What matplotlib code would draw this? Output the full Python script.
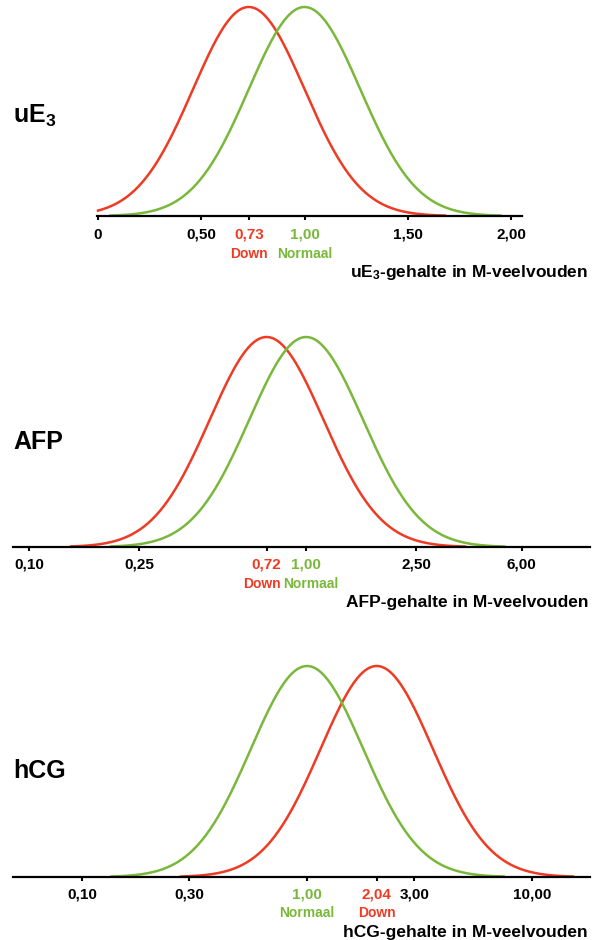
import numpy as np
import matplotlib.pyplot as plt
from matplotlib.ticker import NullLocator

plt.rcParams['font.family'] = ['Liberation Sans', 'DejaVu Sans']
plt.rcParams['font.weight'] = 'bold'
plt.rcParams['mathtext.fontset'] = 'custom'
plt.rcParams['mathtext.rm'] = 'Liberation Sans:bold'
plt.rcParams['mathtext.default'] = 'rm'

RED = '#EE3B24'
GREEN = '#7AB83B'
W, H = 599, 940

# uE3 (lineaire schaal): mediaan, sd, begin, eind van de curve
ue3_ticks = [0, 0.50, 0.73, 1.00, 1.50, 2.00]
ue3_labels = ['0', '0,50', '0,73', '1,00', '1,50', '2,00']
ue3_down = (0.73, 0.27, 0.0, 1.68)
ue3_normaal = (1.00, 0.27, 0.06, 1.95)

# AFP (log schaal, sd in decaden)
afp_ticks = [0.10, 0.25, 0.72, 1.00, 2.50, 6.00]
afp_labels = ['0,10', '0,25', '0,72', '1,00', '2,50', '6,00']
afp_down = (0.72, 0.205, 0.142, 3.74)
afp_normaal = (1.00, 0.205, 0.198, 5.18)

# hCG (log schaal)
hcg_ticks = [0.10, 0.30, 1.00, 2.04, 3.00, 10.00]
hcg_labels = ['0,10', '0,30', '1,00', '2,04', '3,00', '10,00']
hcg_down = (2.04, 0.25, 0.275, 15.2)
hcg_normaal = (1.00, 0.25, 0.135, 7.5)

fig = plt.figure(figsize=(W / 100, H / 100), dpi=100)


def bell(ax, par, color, log):
    m, s, lo, hi = par
    if log:
        x = np.logspace(np.log10(lo), np.log10(hi), 400)
        z = (np.log10(x) - np.log10(m)) / s
    else:
        x = np.linspace(lo, hi, 400)
        z = (x - m) / s
    ax.plot(x, np.exp(-0.5 * z ** 2), color=color, lw=1.8, clip_on=False)


def panel(left, right, base, peak, xlim, log, ticks, labels, down, normaal, pad=5.5):
    ax = fig.add_axes([left / W, 1 - base / H, (right - left) / W, (base - peak) / H])
    if log:
        ax.set_xscale('log')
    ax.set_xlim(*xlim)
    ax.set_ylim(0, 1)
    for s in ['top', 'left', 'right']:
        ax.spines[s].set_visible(False)
    ax.spines['bottom'].set_linewidth(1.6)
    ax.set_yticks([])
    ax.set_xticks(ticks, labels)
    ax.xaxis.set_minor_locator(NullLocator())
    ax.tick_params(axis='x', direction='out', length=3, width=1.5, pad=pad, labelsize=11)
    # gekleurde labels voor mediaan Down / Normaal
    for t, lab, tl in zip(ticks, ax.get_xticklabels(), ax.xaxis.get_major_ticks()):
        if t == down[0]:
            lab.set_color(RED)
            tl.tick1line.set_color(RED)
        elif t == normaal[0]:
            lab.set_color(GREEN)
            tl.tick1line.set_color(GREEN)
    bell(ax, down, RED, log)
    bell(ax, normaal, GREEN, log)
    ax.patch.set_alpha(0)
    return ax


ax1 = panel(97, 522, 216, 7, (-0.0048, 2.053), False, ue3_ticks, ue3_labels, ue3_down, ue3_normaal)
ax2 = panel(13, 590, 547, 337, (0.0876, 10.57), True, afp_ticks, afp_labels, afp_down, afp_normaal, pad=4.5)
ax3 = panel(13, 590, 877, 666, (0.0493, 18.1), True, hcg_ticks, hcg_labels, hcg_down, hcg_normaal, pad=4.5)


def sub(ax, x, text, color, dy, dx=0, size=10):
    ax.annotate(text, xy=(x, 0), xycoords=('data', 'axes fraction'),
                xytext=(dx, -dy), textcoords='offset points',
                ha='center', va='center', color=color, fontsize=size)


sub(ax1, ue3_down[0], 'Down', RED, 27)
sub(ax1, ue3_normaal[0], 'Normaal', GREEN, 27)
sub(ax2, afp_down[0], 'Down', RED, 26.5, dx=-3.5)
sub(ax2, afp_normaal[0], 'Normaal', GREEN, 26.5, dx=3)
sub(ax3, hcg_normaal[0], 'Normaal', GREEN, 26)
sub(ax3, hcg_down[0], 'Down', RED, 26)

fig.text(13 / W, 1 - 123 / H, 'uE$_3$', fontsize=18, va='baseline')
fig.text(13 / W, 1 - 449 / H, 'AFP', fontsize=18, va='baseline')
fig.text(13 / W, 1 - 778 / H, 'hCG', fontsize=18, va='baseline')

fig.text(588 / W, 1 - 272 / H, 'uE$_3$-gehalte in M-veelvouden', fontsize=12.5, ha='right', va='center')
fig.text(588 / W, 1 - 603 / H, 'AFP-gehalte in M-veelvouden', fontsize=12.5, ha='right', va='center')
fig.text(588 / W, 1 - 932 / H, 'hCG-gehalte in M-veelvouden', fontsize=12.5, ha='right', va='center')

fig.savefig('out.png', dpi=100)
